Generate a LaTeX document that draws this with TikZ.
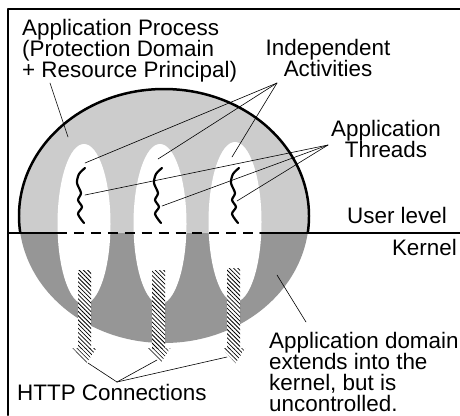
\documentclass[tikz,border=0pt]{standalone}
\usepackage{fontspec}
\setmainfont{Liberation Sans}
\usetikzlibrary{patterns.meta}
\definecolor{userfill}{gray}{0.8}
\definecolor{kernfill}{gray}{0.59}
\tikzset{
	txt/.style={inner sep=0pt, font=\fontsize{22.5}{21}\selectfont},
	leader/.style={line width=0.6pt},
	hatch/.style={pattern={Lines[angle=-45,distance=3pt,line width=0.8pt]}},
	fray/.style={pattern={Lines[angle=-45,distance=3pt,line width=0.6pt]}},
	thread/.style={line width=2.2pt},
}
\begin{document}
\begin{tikzpicture}[x=1bp,y=-1bp,line join=round,line cap=round]
	\useasboundingbox (0,0) rectangle (460,415);
	\def\rx{145}
	\def\ry{127}
	\path
	(164,216) coordinate (O)
	(50,83) coordinate (procTip)
	(68,137) coordinate (procEnd)
	(277,83) coordinate (actTip)
	(85,163) coordinate (act1)
	(158,159) coordinate (act2)
	(232,157) coordinate (act3)
	(328,145) coordinate (thrTip)
	(85,195) coordinate (thr1)
	(162,206) coordinate (thr2)
	(237,201) coordinate (thr3)
	(306,322) coordinate (domTip)
	(277,275) coordinate (domEnd)
	(117,382) coordinate (httpTip)
	(88,363) coordinate (http1)
	(157,360) coordinate (http2)
	(227,357) coordinate (http3)
	;
	% process above and below the user/kernel line
	\begin{scope}
		\clip (0,0) rectangle (460,233);
		\fill[userfill] (O) ellipse [x radius=\rx, y radius=\ry];
	\end{scope}
	\begin{scope}
		\clip (0,233) rectangle (460,415);
		\fill[kernfill] (O) ellipse [x radius=\rx, y radius=\ry];
	\end{scope}
	\foreach \x/\y in {84/224,160/224,235/222}
		\fill[white] (\x,\y) ellipse [x radius=26.5, y radius=80];
	\begin{scope}
		\clip (0,0) rectangle (460,233);
		\draw[line width=2.5pt] (O) ellipse [x radius=\rx, y radius=\ry];
	\end{scope}
	% frame and user/kernel boundary
	\draw[line width=2pt] (8,415) -- (8,9) -- (460,9);
	\draw[line width=2pt] (8,233) -- (57,233) (260,233) -- (460,233);
	\draw[line width=2pt, line cap=butt, dash pattern=on 10pt off 7pt] (57,233) -- (260,233);
	% connections and threads
	\foreach \x/\t in {84.5/270,158.5/270,233.5/268}{
		\fill[white] (\x-6.5,\t) rectangle (\x+6.5,348);
		\fill[hatch] (\x-6.5,\t) rectangle (\x+6.5,348);
		\fill[fray] (\x-12,348) -- (\x+12,348) -- (\x+2,363) -- cycle;
	}
	\foreach \x in {80,157,234}
		\draw[thread] plot[smooth] coordinates {(\x+5,168) (\x-1,174) (\x-3,183) (\x+1,193) (\x-2,200) (\x+2,207) (\x-2,214) (\x+4,223)};
	% labels
	\node[txt, anchor=north west, align=left] (proc) at (22,19) {Application Process\\(Protection Domain\\+ Resource Principal)};
	\node[txt, anchor=north, align=center] (indep) at (328,39) {Independent\\Activities};
	\node[txt, anchor=north, align=center] (thr) at (386,120) {Application\\Threads};
	\node[txt, anchor=base east] (user) at (447,223) {User level};
	\node[txt, anchor=base east] (kern) at (457,255) {Kernel};
	\node[txt, anchor=north west, align=left] (dom) at (269,332) {Application domain\\extends into the\\kernel, but is\\uncontrolled.};
	\node[txt, anchor=base west] (http) at (17,400) {HTTP Connections};
	% leaders
	\draw[leader] (procTip) -- (procEnd);
	\draw[leader] (domTip) -- (domEnd);
	\foreach \i in {1,2,3}{
		\draw[leader] (actTip) -- (act\i);
		\draw[leader] (thrTip) -- (thr\i);
		\draw[leader] (httpTip) -- (http\i);
	}
\end{tikzpicture}
\end{document}
